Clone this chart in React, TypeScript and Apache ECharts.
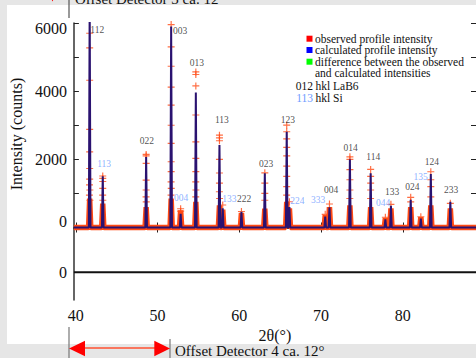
import React, { useEffect, useRef } from "react";
import * as echarts from "echarts";

// ---------- data ----------
const X_MIN = 39.76;
const X_MAX = 88.96;
const Y_MIN = -2127;
const Y_MAX = 6000;
const DIFF_OFFSET = -1314;

// peak positions (2θ) and heights
const peakPos = [41.69, 43.29, 48.6, 51.66, 52.82, 54.68, 57.57, 57.97, 60.26, 63.12, 65.8, 66.13, 70.51, 71.03, 73.53, 76.07, 77.87, 78.55, 80.97, 82.21, 83.43, 85.82];
const calcPeak = [6600, 1500, 2070, 5900, 400, 3960, 2420, 560, 460, 1590, 2810, 600, 320, 590, 2000, 1590, 240, 640, 810, 260, 1570, 756];
const obsDense = [850, 700, 600, 850, 500, 750, 650, 520, 430, 550, 750, 560, 360, 600, 650, 600, 280, 560, 600, 300, 650, 560];

// observed "+" points on the peak flanks
const obsMarks: [number, number][] = [
  [41.69, 5700], [41.69, 5270], [41.69, 4320], [41.69, 2880], [41.69, 2220], [41.69, 1730], [41.69, 1420], [41.67, 1250], [41.71, 1100], [41.66, 950], [41.72, 800],
  [43.29, 1510], [43.29, 1440], [43.29, 1350], [43.29, 1150], [43.28, 950], [43.3, 800],
  [48.6, 2145], [48.6, 2100], [48.6, 1880], [48.6, 1390], [48.6, 1100], [48.59, 900], [48.61, 750],
  [51.66, 5954], [51.66, 5300], [51.66, 4730], [51.66, 4120], [51.66, 3590], [51.66, 3000], [51.66, 2470], [51.66, 1930], [51.66, 1640], [51.65, 1340], [51.67, 1150], [51.65, 950],
  [52.82, 550], [52.82, 480],
  [54.68, 4565], [54.68, 4490], [54.68, 4155], [54.68, 3300], [54.68, 2510], [54.68, 2030], [54.68, 1640], [54.67, 1340], [54.69, 1100], [54.67, 900],
  [57.57, 2710], [57.57, 2630], [57.57, 2545], [57.57, 2000], [57.57, 1600], [57.57, 1300], [57.56, 1050], [57.58, 850],
  [57.97, 660], [60.26, 470],
  [63.12, 1605], [63.12, 1300], [63.12, 1000], [63.12, 800],
  [65.8, 3003], [65.8, 2810], [65.8, 2600], [65.8, 2350], [65.8, 2100], [65.8, 1800], [65.8, 1500], [65.8, 1200], [65.79, 950],
  [66.13, 756], [70.51, 387], [71.03, 689],
  [73.53, 2074], [73.53, 2000], [73.53, 1700], [73.53, 1400], [73.53, 1100], [73.52, 850],
  [76.07, 1705], [76.07, 1500], [76.07, 1300], [76.07, 1100], [76.06, 850],
  [77.87, 300], [78.55, 680], [80.97, 885], [80.97, 750], [82.21, 316],
  [83.43, 1635], [83.43, 1400], [83.43, 1200], [83.43, 900],
  [85.82, 709],
];

// difference curve (flat)
const diffTheta = [X_MIN, X_MAX];
const diffVal = [0, 0];

// hkl labels: [2θ, intensity, text]
const labelsLaB6: [number, number, string][] = [
  [42.62, 5807, "112"], [48.68, 2534, "022"], [52.75, 5766, "003"], [54.8, 4829, "013"],
  [57.87, 3150, "113"], [60.59, 826, "222"], [63.27, 1860, "023"], [65.93, 3150, "123"],
  [71.23, 1090, "004"], [73.61, 2320, "014"], [76.38, 2074, "114"], [78.71, 1049, "133"],
  [81.16, 1187, "024"], [83.57, 1910, "124"], [85.91, 1099, "233"],
];
const labelsSi: [number, number, string][] = [
  [43.46, 1860, "113"], [52.87, 855, "004"], [58.77, 826, "133"], [67.1, 776, "224"],
  [69.63, 806, "333"], [77.59, 727, "044"], [82.18, 1488, "135"],
];

const yTicks = [0, 1000, 2000, 3000, 4000, 5000, 6000];
const yLabels = [DIFF_OFFSET, 0, 2000, 4000, 6000];
const xTicks = [40, 50, 60, 70, 80];

const FONT = "Liberation Serif";
const OBS = "#ff4a14";
const CALC = "#2a1270";
const SI_BLUE = "#6f9cff";
const PLUS = "path://M2.5,0H3.5V2.5H6V3.5H3.5V6H2.5V3.5H0V2.5H2.5Z";

function buildProfile(heights: number[], half: number): [number, number][] {
  const pts: [number, number][] = [[X_MIN, 0]];
  peakPos.forEach((p, i) => {
    pts.push([p - half, 0], [p, heights[i]], [p + half, 0]);
  });
  pts.push([X_MAX, 0]);
  return pts;
}

export default function App() {
  const ref = useRef<HTMLDivElement>(null);
  useEffect(() => {
    if (!ref.current) return;
    const chart = echarts.init(ref.current, undefined, { renderer: "svg" });
    const txt = (x: number, y: number, text: string, extra: any = {}) => ({
      type: "text",
      x,
      y,
      style: { text, fontFamily: FONT, fontSize: 11.5, fill: "#111", verticalAlign: "middle", align: "left", ...extra },
    });
    chart.setOption({
      animation: false,
      backgroundColor: "#e6e6e6",
      grid: { left: 69, top: 23, width: 408, height: 277 },
      xAxis: [
        {
          type: "value", min: X_MIN, max: X_MAX, position: "bottom",
          name: "2θ(°)", nameLocation: "middle", nameGap: 27,
          nameTextStyle: { fontFamily: FONT, fontSize: 16, color: "#111" },
          axisLine: { show: true, lineStyle: { color: "#444", width: 1.5 } },
          axisTick: { show: true, inside: true, length: 5, customValues: xTicks, lineStyle: { color: "#222" } },
          axisLabel: { customValues: xTicks, margin: 7, fontFamily: FONT, fontSize: 16, color: "#111" },
          splitLine: { show: false },
        },
        {
          type: "value", min: X_MIN, max: X_MAX, position: "top",
          axisLine: { show: true, lineStyle: { color: "#333", width: 1.5 } },
          axisTick: { show: true, inside: true, length: 5, customValues: xTicks, lineStyle: { color: "#222" } },
          axisLabel: { show: false },
          splitLine: { show: false },
        },
      ],
      yAxis: [
        {
          type: "value", min: Y_MIN, max: Y_MAX, position: "left",
          name: "Intensity (counts)", nameLocation: "middle", nameGap: 43, nameRotate: 90,
          nameTextStyle: { fontFamily: FONT, fontSize: 16, color: "#111", padding: [0, 0, 0, 55] },
          axisLine: { show: true, lineStyle: { color: "#333", width: 1.5 } },
          axisTick: { show: true, inside: true, length: 5, customValues: yTicks, lineStyle: { color: "#222" } },
          axisLabel: {
            customValues: yLabels, margin: 7, fontFamily: FONT, fontSize: 16, color: "#111",
            formatter: (v: number) => (v === 6000 ? "{dn|6000}" : v === 0 ? "{up|0}" : v < 0 ? "0" : String(v)),
            rich: {
              dn: { fontFamily: FONT, fontSize: 16, color: "#111", padding: [10, 0, 0, 0] },
              up: { fontFamily: FONT, fontSize: 16, color: "#111", padding: [0, 0, 12, 0] },
            },
          },
          splitLine: { show: false },
        },
        {
          type: "value", min: Y_MIN, max: Y_MAX, position: "right",
          axisLine: { show: false },
          axisTick: { show: true, inside: true, length: 5, customValues: yTicks, lineStyle: { color: "#222" } },
          axisLabel: { show: false },
          splitLine: { show: false },
        },
      ],
      series: [
        {
          name: "difference", type: "line", xAxisIndex: 0, yAxisIndex: 0,
          data: diffTheta.map((t, i) => [t, diffVal[i] + DIFF_OFFSET]),
          showSymbol: false, symbol: "none", lineStyle: { color: "#111", width: 2 },
        },
        {
          name: "observed band", type: "line", data: buildProfile(obsDense, 0.13),
          showSymbol: false, symbol: "none", lineStyle: { color: OBS, width: 5.5 },
        },
        {
          name: "observed", type: "scatter", data: obsMarks, symbol: PLUS, symbolSize: 7,
          itemStyle: { color: OBS }, z: 3,
        },
        {
          name: "calculated", type: "line", data: buildProfile(calcPeak, 0.1),
          showSymbol: false, symbol: "none", lineStyle: { color: CALC, width: 2 }, z: 4,
        },
        {
          name: "hkl LaB6", type: "scatter", symbolSize: 0, z: 5,
          data: labelsLaB6.map((d) => ({ value: [d[0], d[1]], name: d[2] })),
          label: { show: true, position: "inside", formatter: (p: any) => p.name, fontFamily: FONT, fontSize: 9.5, color: "#222" },
        },
        {
          name: "hkl Si", type: "scatter", symbolSize: 0, z: 5,
          data: labelsSi.map((d) => ({ value: [d[0], d[1]], name: d[2] })),
          label: { show: true, position: "inside", formatter: (p: any) => p.name, fontFamily: FONT, fontSize: 9.5, color: SI_BLUE },
        },
      ],
      graphic: [
        { type: "rect", z: -10, silent: true, shape: { x: 7, y: 5, width: 470, height: 339 }, style: { fill: "#ffffff" } },
        // top strip
        txt(75, -1, "Offset Detector 3 ca. 12°", { fontSize: 15 }),
        { type: "line", shape: { x1: 69, y1: 0, x2: 69, y2: 18 }, style: { stroke: "#555", lineWidth: 1.2 } },
        { type: "polygon", shape: { points: [[49, -6], [56, -6], [52.5, 1.5]] }, style: { fill: "#ff0000" } },
        // legend
        { type: "rect", shape: { x: 306.5, y: 35.7, width: 6, height: 6 }, style: { fill: "#ff0000" } },
        txt(315, 38.7, "observed profile intensity"),
        { type: "rect", shape: { x: 306.5, y: 47, width: 6, height: 6 }, style: { fill: "#0000ff" } },
        txt(315, 50, "calculated profile intensity"),
        { type: "rect", shape: { x: 306.5, y: 58.7, width: 6, height: 6 }, style: { fill: "#00ff00" } },
        txt(315, 61.7, "difference between the observed"),
        txt(315, 73.3, "and calculated intensities"),
        txt(313, 86, "012", { align: "right" }),
        txt(315.5, 86, "hkl LaB6"),
        txt(313, 97.5, "113", { align: "right", fill: SI_BLUE }),
        txt(315.5, 97.5, "hkl Si"),
        // bottom strip
        { type: "line", shape: { x1: 69, y1: 327, x2: 69, y2: 358 }, style: { stroke: "#777", lineWidth: 1.2 } },
        { type: "line", shape: { x1: 170, y1: 339, x2: 170, y2: 358 }, style: { stroke: "#777", lineWidth: 1.2 } },
        { type: "line", shape: { x1: 84, y1: 348, x2: 155, y2: 348 }, style: { stroke: "#ff5030", lineWidth: 1.5 } },
        { type: "polygon", shape: { points: [[69, 348.5], [85, 340.7], [85, 356.3]] }, style: { fill: "#ff0000" } },
        { type: "polygon", shape: { points: [[170, 348.5], [154.3, 340.7], [154.3, 356.3]] }, style: { fill: "#ff0000" } },
        txt(175, 351, "Offset Detector 4 ca. 12°", { fontSize: 15 }),
      ],
    });
    return () => chart.dispose();
  }, []);
  return <div ref={ref} style={{ position: "absolute", left: 0, top: 0, width: 476, height: 358 }} />;
}
